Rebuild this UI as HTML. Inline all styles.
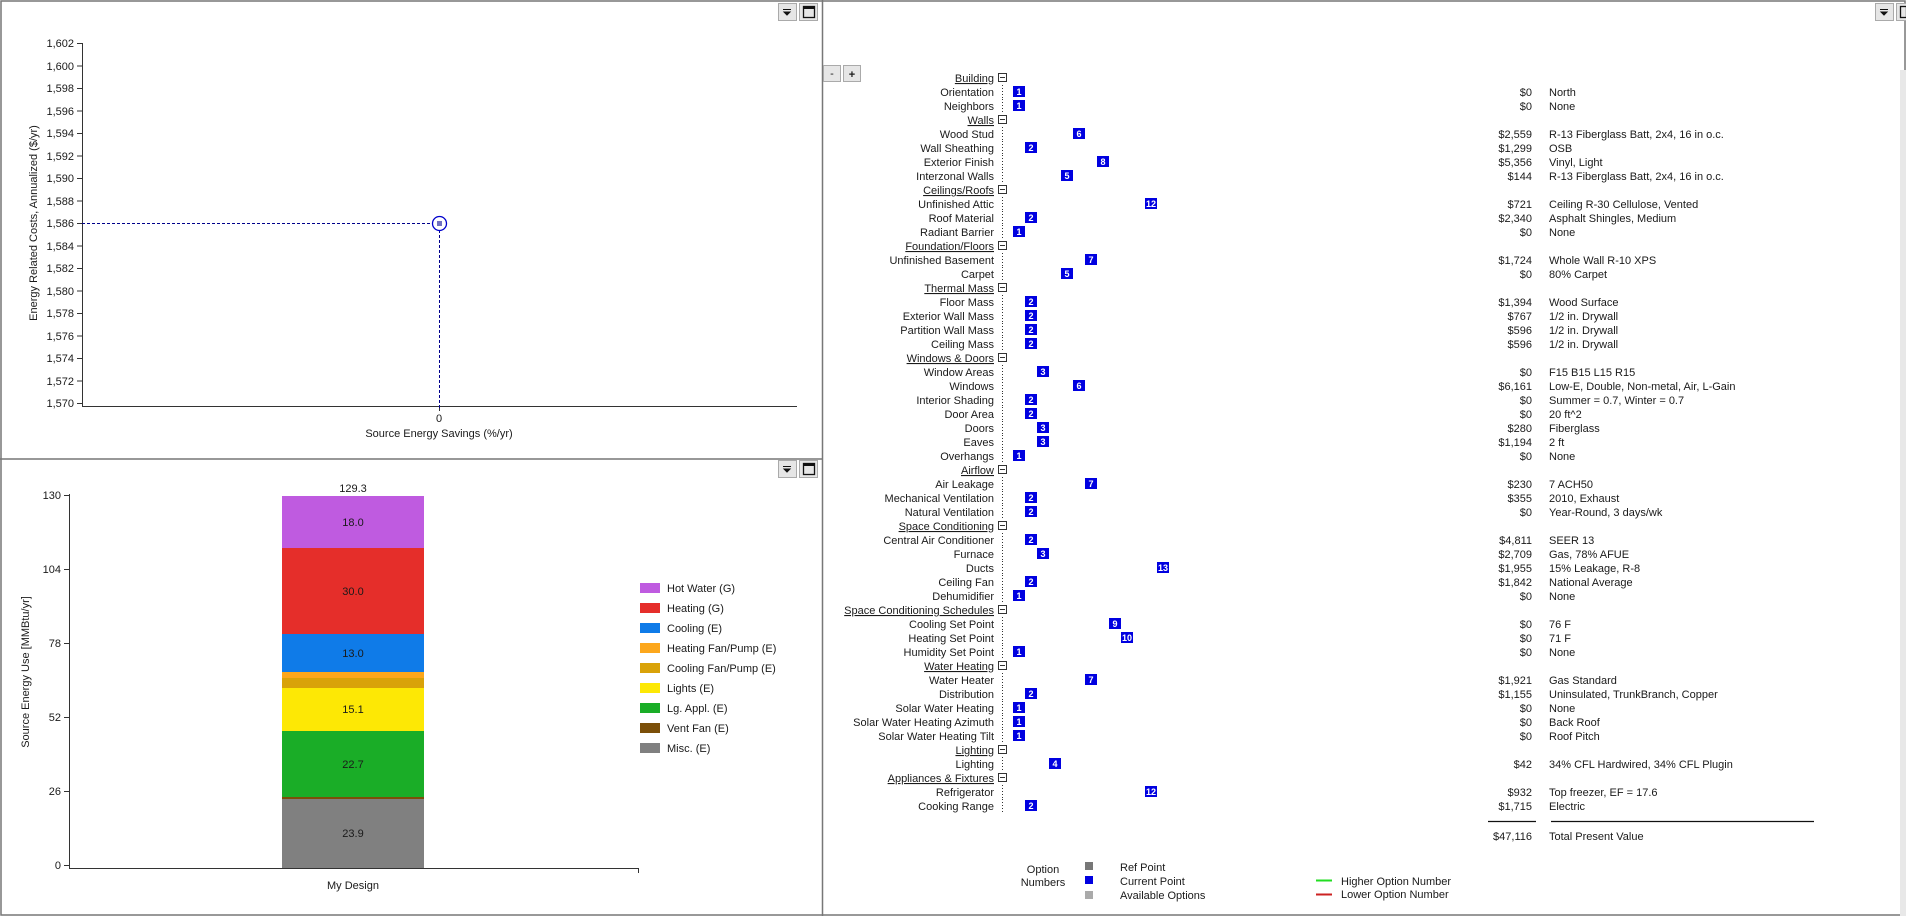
<!DOCTYPE html>
<html><head><meta charset="utf-8"><style>
html,body{margin:0;padding:0;background:#fff;}
svg{display:block;}
text{font-family:"Liberation Sans",sans-serif;font-size:11px;fill:#1a1a1a;}
.r{text-anchor:end;}
.m{text-anchor:middle;}
.u{text-decoration:underline;}
.n{fill:#fff;font-size:9px;text-anchor:middle;font-weight:bold;}
.d{stroke:#333;stroke-width:1;stroke-dasharray:1,2;}
.hb{fill:#fff;stroke:#333;stroke-width:1;}
.b{fill:#0000e0;}
</style></head><body>
<svg width="1906" height="916" viewBox="0 0 1906 916" xmlns="http://www.w3.org/2000/svg">
<rect x="0" y="0" width="1906" height="916" fill="#fff"/>
<!-- panel borders -->
<rect x="1" y="1" width="1904" height="914" fill="none" stroke="#777" stroke-width="1.5"/>
<line x1="822.5" y1="0" x2="822.5" y2="916" stroke="#777" stroke-width="1.5"/>
<line x1="0" y1="459" x2="822" y2="459" stroke="#777" stroke-width="1.5"/>
<rect x="1900" y="70" width="6" height="846" fill="#e8e8e8"/>
<!-- panel buttons -->
<g fill="#e6e6e6" stroke="#aaa">
<rect x="778.5" y="3.5" width="18" height="17"/><rect x="799.5" y="3.5" width="18" height="17"/>
<rect x="778.5" y="460.5" width="18" height="17"/><rect x="799.5" y="460.5" width="18" height="17"/>
<rect x="1875.5" y="3.5" width="18" height="17"/><rect x="1896.5" y="3.5" width="10" height="17"/>
</g>
<g fill="#111" stroke="#111">
<line x1="783" y1="9.5" x2="791" y2="9.5"/><path d="M784 12 L790 12 L787 15 Z"/>
<rect x="803.5" y="6.5" width="11" height="11" fill="none" stroke-width="1.3"/><line x1="803.5" y1="8" x2="814.5" y2="8" stroke-width="2"/>
<line x1="783" y1="466.5" x2="791" y2="466.5"/><path d="M784 469 L790 469 L787 472 Z"/>
<rect x="803.5" y="463.5" width="11" height="11" fill="none" stroke-width="1.3"/><line x1="803.5" y1="465" x2="814.5" y2="465" stroke-width="2"/>
<line x1="1880" y1="9.5" x2="1888" y2="9.5"/><path d="M1881 12 L1887 12 L1884 15 Z"/>
<rect x="1900.5" y="6.5" width="6" height="11" fill="none" stroke-width="1.3"/>
</g>

<!-- TOP CHART -->
<g stroke="#333" stroke-width="1">
<line x1="82.5" y1="43" x2="82.5" y2="406.5"/>
<line x1="82" y1="406.5" x2="797" y2="406.5"/>
<line x1="77" y1="43.5" x2="82" y2="43.5"/><line x1="77" y1="66" x2="82" y2="66"/><line x1="77" y1="88.5" x2="82" y2="88.5"/><line x1="77" y1="111" x2="82" y2="111"/><line x1="77" y1="133.5" x2="82" y2="133.5"/><line x1="77" y1="156" x2="82" y2="156"/><line x1="77" y1="178.5" x2="82" y2="178.5"/><line x1="77" y1="201" x2="82" y2="201"/><line x1="77" y1="223.5" x2="82" y2="223.5"/><line x1="77" y1="246" x2="82" y2="246"/><line x1="77" y1="268.5" x2="82" y2="268.5"/><line x1="77" y1="291" x2="82" y2="291"/><line x1="77" y1="313.5" x2="82" y2="313.5"/><line x1="77" y1="336" x2="82" y2="336"/><line x1="77" y1="358.5" x2="82" y2="358.5"/><line x1="77" y1="381" x2="82" y2="381"/><line x1="77" y1="403.5" x2="82" y2="403.5"/>
<line x1="439.5" y1="406" x2="439.5" y2="411"/>
</g>
<g class="r">
<text class="r" x="74" y="47">1,602</text><text class="r" x="74" y="70">1,600</text><text class="r" x="74" y="92">1,598</text><text class="r" x="74" y="115">1,596</text><text class="r" x="74" y="137">1,594</text><text class="r" x="74" y="160">1,592</text><text class="r" x="74" y="182">1,590</text><text class="r" x="74" y="205">1,588</text><text class="r" x="74" y="227">1,586</text><text class="r" x="74" y="250">1,584</text><text class="r" x="74" y="272">1,582</text><text class="r" x="74" y="295">1,580</text><text class="r" x="74" y="317">1,578</text><text class="r" x="74" y="340">1,576</text><text class="r" x="74" y="362">1,574</text><text class="r" x="74" y="385">1,572</text><text class="r" x="74" y="407">1,570</text>
</g>
<text class="m" x="439" y="422">0</text>
<text class="m" x="439" y="437">Source Energy Savings (%/yr)</text>
<text class="m" x="37" y="223" transform="rotate(-90 37 223)">Energy Related Costs, Annualized ($/yr)</text>
<g stroke="#00008b" stroke-width="1" stroke-dasharray="3,2" fill="none">
<line x1="82" y1="223.5" x2="432" y2="223.5"/>
<line x1="439.5" y1="230" x2="439.5" y2="410"/>
</g>
<circle cx="439.5" cy="223.5" r="7" fill="none" stroke="#0000cc" stroke-width="1.3"/>
<rect x="437" y="221" width="5" height="5" fill="#7070c0"/>

<!-- BOTTOM CHART -->
<g stroke="#333" stroke-width="1">
<line x1="69.5" y1="494" x2="69.5" y2="868"/>
<line x1="69" y1="868.5" x2="639" y2="868.5"/>
<line x1="638.5" y1="868" x2="638.5" y2="873"/>
<line x1="64" y1="495.5" x2="69" y2="495.5"/><line x1="64" y1="569.5" x2="69" y2="569.5"/><line x1="64" y1="643.5" x2="69" y2="643.5"/><line x1="64" y1="717.5" x2="69" y2="717.5"/><line x1="64" y1="791.5" x2="69" y2="791.5"/><line x1="64" y1="865.5" x2="69" y2="865.5"/>
</g>
<text class="r" x="61" y="499">130</text><text class="r" x="61" y="573">104</text><text class="r" x="61" y="647">78</text><text class="r" x="61" y="721">52</text><text class="r" x="61" y="795">26</text><text class="r" x="61" y="869">0</text>
<text class="m" x="29" y="672" transform="rotate(-90 29 672)">Source Energy Use [MMBtu/yr]</text>
<rect x="282" y="496" width="142" height="52" fill="#bf5be0"/>
<rect x="282" y="548" width="142" height="86" fill="#e52e2a"/>
<rect x="282" y="634" width="142" height="38" fill="#0f7be8"/>
<rect x="282" y="672" width="142" height="6" fill="#fca71c"/>
<rect x="282" y="678" width="142" height="10" fill="#d9a209"/>
<rect x="282" y="688" width="142" height="43" fill="#fde805"/>
<rect x="282" y="731" width="142" height="66" fill="#1aad27"/>
<rect x="282" y="797" width="142" height="2" fill="#7b4f09"/>
<rect x="282" y="799" width="142" height="69" fill="#808080"/>
<text class="m" x="353" y="492">129.3</text>
<text class="m" x="353" y="526">18.0</text>
<text class="m" x="353" y="595">30.0</text>
<text class="m" x="353" y="657">13.0</text>
<text class="m" x="353" y="713">15.1</text>
<text class="m" x="353" y="768">22.7</text>
<text class="m" x="353" y="837">23.9</text>
<text class="m" x="353" y="889">My Design</text>
<rect x="640" y="583" width="20" height="10" fill="#bf5be0"/><text x="667" y="592">Hot Water (G)</text>
<rect x="640" y="603" width="20" height="10" fill="#e52e2a"/><text x="667" y="612">Heating (G)</text>
<rect x="640" y="623" width="20" height="10" fill="#0f7be8"/><text x="667" y="632">Cooling (E)</text>
<rect x="640" y="643" width="20" height="10" fill="#fca71c"/><text x="667" y="652">Heating Fan/Pump (E)</text>
<rect x="640" y="663" width="20" height="10" fill="#d9a209"/><text x="667" y="672">Cooling Fan/Pump (E)</text>
<rect x="640" y="683" width="20" height="10" fill="#fde805"/><text x="667" y="692">Lights (E)</text>
<rect x="640" y="703" width="20" height="10" fill="#1aad27"/><text x="667" y="712">Lg. Appl. (E)</text>
<rect x="640" y="723" width="20" height="10" fill="#7b4f09"/><text x="667" y="732">Vent Fan (E)</text>
<rect x="640" y="743" width="20" height="10" fill="#808080"/><text x="667" y="752">Misc. (E)</text>

<!-- RIGHT PANEL: -/+ buttons -->
<rect x="823.5" y="65.5" width="17" height="16" fill="#e6e6e6" stroke="#aaa"/>
<rect x="843.5" y="65.5" width="17" height="16" fill="#e6e6e6" stroke="#aaa"/>
<text class="m" x="832" y="77">-</text><text class="m" x="852" y="78" style="font-weight:bold">+</text>

<!-- TREE -->
<g transform="translate(0,78)"><text class="r u" x="994" y="4">Building</text><rect class="hb" x="998.5" y="-4.5" width="8" height="8"/><line x1="1000" y1="-0.5" x2="1005" y2="-0.5" stroke="#333"/></g>
<g transform="translate(0,92)"><text class="r" x="994" y="4">Orientation</text><line class="d" x1="1002.5" y1="-7" x2="1002.5" y2="7"/><rect class="b" x="1013" y="-6" width="12" height="11"/><text class="n" x="1019" y="3">1</text><text class="r" x="1532" y="4">$0</text><text x="1549" y="4">North</text></g>
<g transform="translate(0,106)"><text class="r" x="994" y="4">Neighbors</text><line class="d" x1="1002.5" y1="-7" x2="1002.5" y2="7"/><rect class="b" x="1013" y="-6" width="12" height="11"/><text class="n" x="1019" y="3">1</text><text class="r" x="1532" y="4">$0</text><text x="1549" y="4">None</text></g>
<g transform="translate(0,120)"><text class="r u" x="994" y="4">Walls</text><rect class="hb" x="998.5" y="-4.5" width="8" height="8"/><line x1="1000" y1="-0.5" x2="1005" y2="-0.5" stroke="#333"/></g>
<g transform="translate(0,134)"><text class="r" x="994" y="4">Wood Stud</text><line class="d" x1="1002.5" y1="-7" x2="1002.5" y2="7"/><rect class="b" x="1073" y="-6" width="12" height="11"/><text class="n" x="1079" y="3">6</text><text class="r" x="1532" y="4">$2,559</text><text x="1549" y="4">R-13 Fiberglass Batt, 2x4, 16 in o.c.</text></g>
<g transform="translate(0,148)"><text class="r" x="994" y="4">Wall Sheathing</text><line class="d" x1="1002.5" y1="-7" x2="1002.5" y2="7"/><rect class="b" x="1025" y="-6" width="12" height="11"/><text class="n" x="1031" y="3">2</text><text class="r" x="1532" y="4">$1,299</text><text x="1549" y="4">OSB</text></g>
<g transform="translate(0,162)"><text class="r" x="994" y="4">Exterior Finish</text><line class="d" x1="1002.5" y1="-7" x2="1002.5" y2="7"/><rect class="b" x="1097" y="-6" width="12" height="11"/><text class="n" x="1103" y="3">8</text><text class="r" x="1532" y="4">$5,356</text><text x="1549" y="4">Vinyl, Light</text></g>
<g transform="translate(0,176)"><text class="r" x="994" y="4">Interzonal Walls</text><line class="d" x1="1002.5" y1="-7" x2="1002.5" y2="7"/><rect class="b" x="1061" y="-6" width="12" height="11"/><text class="n" x="1067" y="3">5</text><text class="r" x="1532" y="4">$144</text><text x="1549" y="4">R-13 Fiberglass Batt, 2x4, 16 in o.c.</text></g>
<g transform="translate(0,190)"><text class="r u" x="994" y="4">Ceilings/Roofs</text><rect class="hb" x="998.5" y="-4.5" width="8" height="8"/><line x1="1000" y1="-0.5" x2="1005" y2="-0.5" stroke="#333"/></g>
<g transform="translate(0,204)"><text class="r" x="994" y="4">Unfinished Attic</text><line class="d" x1="1002.5" y1="-7" x2="1002.5" y2="7"/><rect class="b" x="1145" y="-6" width="12" height="11"/><text class="n" x="1151" y="3">12</text><text class="r" x="1532" y="4">$721</text><text x="1549" y="4">Ceiling R-30 Cellulose, Vented</text></g>
<g transform="translate(0,218)"><text class="r" x="994" y="4">Roof Material</text><line class="d" x1="1002.5" y1="-7" x2="1002.5" y2="7"/><rect class="b" x="1025" y="-6" width="12" height="11"/><text class="n" x="1031" y="3">2</text><text class="r" x="1532" y="4">$2,340</text><text x="1549" y="4">Asphalt Shingles, Medium</text></g>
<g transform="translate(0,232)"><text class="r" x="994" y="4">Radiant Barrier</text><line class="d" x1="1002.5" y1="-7" x2="1002.5" y2="7"/><rect class="b" x="1013" y="-6" width="12" height="11"/><text class="n" x="1019" y="3">1</text><text class="r" x="1532" y="4">$0</text><text x="1549" y="4">None</text></g>
<g transform="translate(0,246)"><text class="r u" x="994" y="4">Foundation/Floors</text><rect class="hb" x="998.5" y="-4.5" width="8" height="8"/><line x1="1000" y1="-0.5" x2="1005" y2="-0.5" stroke="#333"/></g>
<g transform="translate(0,260)"><text class="r" x="994" y="4">Unfinished Basement</text><line class="d" x1="1002.5" y1="-7" x2="1002.5" y2="7"/><rect class="b" x="1085" y="-6" width="12" height="11"/><text class="n" x="1091" y="3">7</text><text class="r" x="1532" y="4">$1,724</text><text x="1549" y="4">Whole Wall R-10 XPS</text></g>
<g transform="translate(0,274)"><text class="r" x="994" y="4">Carpet</text><line class="d" x1="1002.5" y1="-7" x2="1002.5" y2="7"/><rect class="b" x="1061" y="-6" width="12" height="11"/><text class="n" x="1067" y="3">5</text><text class="r" x="1532" y="4">$0</text><text x="1549" y="4">80% Carpet</text></g>
<g transform="translate(0,288)"><text class="r u" x="994" y="4">Thermal Mass</text><rect class="hb" x="998.5" y="-4.5" width="8" height="8"/><line x1="1000" y1="-0.5" x2="1005" y2="-0.5" stroke="#333"/></g>
<g transform="translate(0,302)"><text class="r" x="994" y="4">Floor Mass</text><line class="d" x1="1002.5" y1="-7" x2="1002.5" y2="7"/><rect class="b" x="1025" y="-6" width="12" height="11"/><text class="n" x="1031" y="3">2</text><text class="r" x="1532" y="4">$1,394</text><text x="1549" y="4">Wood Surface</text></g>
<g transform="translate(0,316)"><text class="r" x="994" y="4">Exterior Wall Mass</text><line class="d" x1="1002.5" y1="-7" x2="1002.5" y2="7"/><rect class="b" x="1025" y="-6" width="12" height="11"/><text class="n" x="1031" y="3">2</text><text class="r" x="1532" y="4">$767</text><text x="1549" y="4">1/2 in. Drywall</text></g>
<g transform="translate(0,330)"><text class="r" x="994" y="4">Partition Wall Mass</text><line class="d" x1="1002.5" y1="-7" x2="1002.5" y2="7"/><rect class="b" x="1025" y="-6" width="12" height="11"/><text class="n" x="1031" y="3">2</text><text class="r" x="1532" y="4">$596</text><text x="1549" y="4">1/2 in. Drywall</text></g>
<g transform="translate(0,344)"><text class="r" x="994" y="4">Ceiling Mass</text><line class="d" x1="1002.5" y1="-7" x2="1002.5" y2="7"/><rect class="b" x="1025" y="-6" width="12" height="11"/><text class="n" x="1031" y="3">2</text><text class="r" x="1532" y="4">$596</text><text x="1549" y="4">1/2 in. Drywall</text></g>
<g transform="translate(0,358)"><text class="r u" x="994" y="4">Windows &amp; Doors</text><rect class="hb" x="998.5" y="-4.5" width="8" height="8"/><line x1="1000" y1="-0.5" x2="1005" y2="-0.5" stroke="#333"/></g>
<g transform="translate(0,372)"><text class="r" x="994" y="4">Window Areas</text><line class="d" x1="1002.5" y1="-7" x2="1002.5" y2="7"/><rect class="b" x="1037" y="-6" width="12" height="11"/><text class="n" x="1043" y="3">3</text><text class="r" x="1532" y="4">$0</text><text x="1549" y="4">F15 B15 L15 R15</text></g>
<g transform="translate(0,386)"><text class="r" x="994" y="4">Windows</text><line class="d" x1="1002.5" y1="-7" x2="1002.5" y2="7"/><rect class="b" x="1073" y="-6" width="12" height="11"/><text class="n" x="1079" y="3">6</text><text class="r" x="1532" y="4">$6,161</text><text x="1549" y="4">Low-E, Double, Non-metal, Air, L-Gain</text></g>
<g transform="translate(0,400)"><text class="r" x="994" y="4">Interior Shading</text><line class="d" x1="1002.5" y1="-7" x2="1002.5" y2="7"/><rect class="b" x="1025" y="-6" width="12" height="11"/><text class="n" x="1031" y="3">2</text><text class="r" x="1532" y="4">$0</text><text x="1549" y="4">Summer = 0.7, Winter = 0.7</text></g>
<g transform="translate(0,414)"><text class="r" x="994" y="4">Door Area</text><line class="d" x1="1002.5" y1="-7" x2="1002.5" y2="7"/><rect class="b" x="1025" y="-6" width="12" height="11"/><text class="n" x="1031" y="3">2</text><text class="r" x="1532" y="4">$0</text><text x="1549" y="4">20 ft^2</text></g>
<g transform="translate(0,428)"><text class="r" x="994" y="4">Doors</text><line class="d" x1="1002.5" y1="-7" x2="1002.5" y2="7"/><rect class="b" x="1037" y="-6" width="12" height="11"/><text class="n" x="1043" y="3">3</text><text class="r" x="1532" y="4">$280</text><text x="1549" y="4">Fiberglass</text></g>
<g transform="translate(0,442)"><text class="r" x="994" y="4">Eaves</text><line class="d" x1="1002.5" y1="-7" x2="1002.5" y2="7"/><rect class="b" x="1037" y="-6" width="12" height="11"/><text class="n" x="1043" y="3">3</text><text class="r" x="1532" y="4">$1,194</text><text x="1549" y="4">2 ft</text></g>
<g transform="translate(0,456)"><text class="r" x="994" y="4">Overhangs</text><line class="d" x1="1002.5" y1="-7" x2="1002.5" y2="7"/><rect class="b" x="1013" y="-6" width="12" height="11"/><text class="n" x="1019" y="3">1</text><text class="r" x="1532" y="4">$0</text><text x="1549" y="4">None</text></g>
<g transform="translate(0,470)"><text class="r u" x="994" y="4">Airflow</text><rect class="hb" x="998.5" y="-4.5" width="8" height="8"/><line x1="1000" y1="-0.5" x2="1005" y2="-0.5" stroke="#333"/></g>
<g transform="translate(0,484)"><text class="r" x="994" y="4">Air Leakage</text><line class="d" x1="1002.5" y1="-7" x2="1002.5" y2="7"/><rect class="b" x="1085" y="-6" width="12" height="11"/><text class="n" x="1091" y="3">7</text><text class="r" x="1532" y="4">$230</text><text x="1549" y="4">7 ACH50</text></g>
<g transform="translate(0,498)"><text class="r" x="994" y="4">Mechanical Ventilation</text><line class="d" x1="1002.5" y1="-7" x2="1002.5" y2="7"/><rect class="b" x="1025" y="-6" width="12" height="11"/><text class="n" x="1031" y="3">2</text><text class="r" x="1532" y="4">$355</text><text x="1549" y="4">2010, Exhaust</text></g>
<g transform="translate(0,512)"><text class="r" x="994" y="4">Natural Ventilation</text><line class="d" x1="1002.5" y1="-7" x2="1002.5" y2="7"/><rect class="b" x="1025" y="-6" width="12" height="11"/><text class="n" x="1031" y="3">2</text><text class="r" x="1532" y="4">$0</text><text x="1549" y="4">Year-Round, 3 days/wk</text></g>
<g transform="translate(0,526)"><text class="r u" x="994" y="4">Space Conditioning</text><rect class="hb" x="998.5" y="-4.5" width="8" height="8"/><line x1="1000" y1="-0.5" x2="1005" y2="-0.5" stroke="#333"/></g>
<g transform="translate(0,540)"><text class="r" x="994" y="4">Central Air Conditioner</text><line class="d" x1="1002.5" y1="-7" x2="1002.5" y2="7"/><rect class="b" x="1025" y="-6" width="12" height="11"/><text class="n" x="1031" y="3">2</text><text class="r" x="1532" y="4">$4,811</text><text x="1549" y="4">SEER 13</text></g>
<g transform="translate(0,554)"><text class="r" x="994" y="4">Furnace</text><line class="d" x1="1002.5" y1="-7" x2="1002.5" y2="7"/><rect class="b" x="1037" y="-6" width="12" height="11"/><text class="n" x="1043" y="3">3</text><text class="r" x="1532" y="4">$2,709</text><text x="1549" y="4">Gas, 78% AFUE</text></g>
<g transform="translate(0,568)"><text class="r" x="994" y="4">Ducts</text><line class="d" x1="1002.5" y1="-7" x2="1002.5" y2="7"/><rect class="b" x="1157" y="-6" width="12" height="11"/><text class="n" x="1163" y="3">13</text><text class="r" x="1532" y="4">$1,955</text><text x="1549" y="4">15% Leakage, R-8</text></g>
<g transform="translate(0,582)"><text class="r" x="994" y="4">Ceiling Fan</text><line class="d" x1="1002.5" y1="-7" x2="1002.5" y2="7"/><rect class="b" x="1025" y="-6" width="12" height="11"/><text class="n" x="1031" y="3">2</text><text class="r" x="1532" y="4">$1,842</text><text x="1549" y="4">National Average</text></g>
<g transform="translate(0,596)"><text class="r" x="994" y="4">Dehumidifier</text><line class="d" x1="1002.5" y1="-7" x2="1002.5" y2="7"/><rect class="b" x="1013" y="-6" width="12" height="11"/><text class="n" x="1019" y="3">1</text><text class="r" x="1532" y="4">$0</text><text x="1549" y="4">None</text></g>
<g transform="translate(0,610)"><text class="r u" x="994" y="4">Space Conditioning Schedules</text><rect class="hb" x="998.5" y="-4.5" width="8" height="8"/><line x1="1000" y1="-0.5" x2="1005" y2="-0.5" stroke="#333"/></g>
<g transform="translate(0,624)"><text class="r" x="994" y="4">Cooling Set Point</text><line class="d" x1="1002.5" y1="-7" x2="1002.5" y2="7"/><rect class="b" x="1109" y="-6" width="12" height="11"/><text class="n" x="1115" y="3">9</text><text class="r" x="1532" y="4">$0</text><text x="1549" y="4">76 F</text></g>
<g transform="translate(0,638)"><text class="r" x="994" y="4">Heating Set Point</text><line class="d" x1="1002.5" y1="-7" x2="1002.5" y2="7"/><rect class="b" x="1121" y="-6" width="12" height="11"/><text class="n" x="1127" y="3">10</text><text class="r" x="1532" y="4">$0</text><text x="1549" y="4">71 F</text></g>
<g transform="translate(0,652)"><text class="r" x="994" y="4">Humidity Set Point</text><line class="d" x1="1002.5" y1="-7" x2="1002.5" y2="7"/><rect class="b" x="1013" y="-6" width="12" height="11"/><text class="n" x="1019" y="3">1</text><text class="r" x="1532" y="4">$0</text><text x="1549" y="4">None</text></g>
<g transform="translate(0,666)"><text class="r u" x="994" y="4">Water Heating</text><rect class="hb" x="998.5" y="-4.5" width="8" height="8"/><line x1="1000" y1="-0.5" x2="1005" y2="-0.5" stroke="#333"/></g>
<g transform="translate(0,680)"><text class="r" x="994" y="4">Water Heater</text><line class="d" x1="1002.5" y1="-7" x2="1002.5" y2="7"/><rect class="b" x="1085" y="-6" width="12" height="11"/><text class="n" x="1091" y="3">7</text><text class="r" x="1532" y="4">$1,921</text><text x="1549" y="4">Gas Standard</text></g>
<g transform="translate(0,694)"><text class="r" x="994" y="4">Distribution</text><line class="d" x1="1002.5" y1="-7" x2="1002.5" y2="7"/><rect class="b" x="1025" y="-6" width="12" height="11"/><text class="n" x="1031" y="3">2</text><text class="r" x="1532" y="4">$1,155</text><text x="1549" y="4">Uninsulated, TrunkBranch, Copper</text></g>
<g transform="translate(0,708)"><text class="r" x="994" y="4">Solar Water Heating</text><line class="d" x1="1002.5" y1="-7" x2="1002.5" y2="7"/><rect class="b" x="1013" y="-6" width="12" height="11"/><text class="n" x="1019" y="3">1</text><text class="r" x="1532" y="4">$0</text><text x="1549" y="4">None</text></g>
<g transform="translate(0,722)"><text class="r" x="994" y="4">Solar Water Heating Azimuth</text><line class="d" x1="1002.5" y1="-7" x2="1002.5" y2="7"/><rect class="b" x="1013" y="-6" width="12" height="11"/><text class="n" x="1019" y="3">1</text><text class="r" x="1532" y="4">$0</text><text x="1549" y="4">Back Roof</text></g>
<g transform="translate(0,736)"><text class="r" x="994" y="4">Solar Water Heating Tilt</text><line class="d" x1="1002.5" y1="-7" x2="1002.5" y2="7"/><rect class="b" x="1013" y="-6" width="12" height="11"/><text class="n" x="1019" y="3">1</text><text class="r" x="1532" y="4">$0</text><text x="1549" y="4">Roof Pitch</text></g>
<g transform="translate(0,750)"><text class="r u" x="994" y="4">Lighting</text><rect class="hb" x="998.5" y="-4.5" width="8" height="8"/><line x1="1000" y1="-0.5" x2="1005" y2="-0.5" stroke="#333"/></g>
<g transform="translate(0,764)"><text class="r" x="994" y="4">Lighting</text><line class="d" x1="1002.5" y1="-7" x2="1002.5" y2="7"/><rect class="b" x="1049" y="-6" width="12" height="11"/><text class="n" x="1055" y="3">4</text><text class="r" x="1532" y="4">$42</text><text x="1549" y="4">34% CFL Hardwired, 34% CFL Plugin</text></g>
<g transform="translate(0,778)"><text class="r u" x="994" y="4">Appliances &amp; Fixtures</text><rect class="hb" x="998.5" y="-4.5" width="8" height="8"/><line x1="1000" y1="-0.5" x2="1005" y2="-0.5" stroke="#333"/></g>
<g transform="translate(0,792)"><text class="r" x="994" y="4">Refrigerator</text><line class="d" x1="1002.5" y1="-7" x2="1002.5" y2="7"/><rect class="b" x="1145" y="-6" width="12" height="11"/><text class="n" x="1151" y="3">12</text><text class="r" x="1532" y="4">$932</text><text x="1549" y="4">Top freezer, EF = 17.6</text></g>
<g transform="translate(0,806)"><text class="r" x="994" y="4">Cooking Range</text><line class="d" x1="1002.5" y1="-7" x2="1002.5" y2="7"/><rect class="b" x="1025" y="-6" width="12" height="11"/><text class="n" x="1031" y="3">2</text><text class="r" x="1532" y="4">$1,715</text><text x="1549" y="4">Electric</text></g>

<!-- totals -->
<line x1="1488" y1="821.5" x2="1536" y2="821.5" stroke="#111" stroke-width="1.2"/>
<line x1="1551" y1="821.5" x2="1814" y2="821.5" stroke="#111" stroke-width="1.2"/>
<text class="r" x="1532" y="840">$47,116</text>
<text x="1549" y="840">Total Present Value</text>

<!-- legend -->
<text class="m" x="1043" y="873">Option</text>
<text class="m" x="1043" y="886">Numbers</text>
<rect x="1085" y="862" width="8" height="8" fill="#777"/>
<rect x="1085" y="876" width="8" height="8" fill="#0000e0"/>
<rect x="1085" y="891" width="8" height="8" fill="#aaa"/>
<text x="1120" y="871">Ref Point</text>
<text x="1120" y="885">Current Point</text>
<text x="1120" y="899">Available Options</text>
<line x1="1316" y1="880.5" x2="1332" y2="880.5" stroke="#22dd22" stroke-width="2"/>
<line x1="1316" y1="894.5" x2="1332" y2="894.5" stroke="#cc2222" stroke-width="2"/>
<text x="1341" y="885">Higher Option Number</text>
<text x="1341" y="898">Lower Option Number</text>
</svg>
</body></html>
